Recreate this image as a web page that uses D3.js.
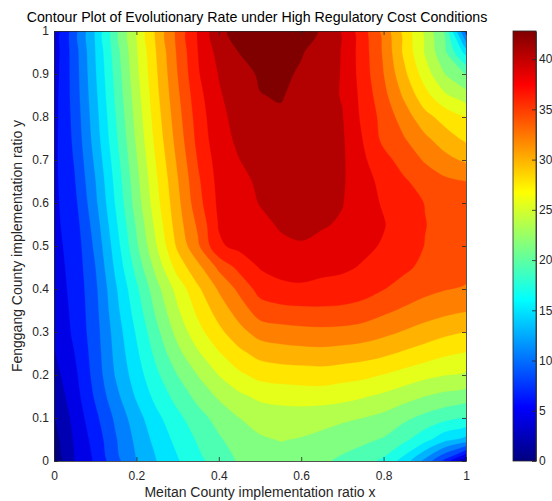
<!DOCTYPE html>
<html>
<head>
<meta charset="utf-8">
<script src="https://cdn.jsdelivr.net/npm/d3@7"></script>
<style>
  body { margin: 0; background: #fff; }
  svg { display: block; font-family: "Liberation Sans", Arial, Helvetica, sans-serif; }
  .axis .tick text { fill: #262626; font-size: 12px; }
  .axis .tick line, .axis .domain { stroke: #262626; stroke-width: 0.8; }
</style>
</head>
<body>
<svg class="rate-chart"></svg>
<script>
// grid coordinates of the sampled surface
var xGrid = [0, 0.05, 0.1, 0.15, 0.2, 0.25, 0.3, 0.35, 0.4, 0.45, 0.5,
             0.55, 0.6, 0.65, 0.7, 0.75, 0.8, 0.85, 0.9, 0.95, 1];
var yGrid = [0, 0.05, 0.1, 0.15, 0.2, 0.25, 0.3, 0.35, 0.4, 0.45, 0.5,
             0.55, 0.6, 0.65, 0.7, 0.75, 0.8, 0.85, 0.9, 0.95, 1];

// evolutionary rate, one row per y value (bottom row first)
var rate = [
  [0.5, 4.0, 6.4, 9.5, 12.2, 14.3, 16.1, 17.8, 19.3, 20.6, 21.5, 21.6, 21.3, 20.7, 20.0, 19.2, 17.9, 15.4, 11.6, 7.4, 2.0],
  [1.2, 4.3, 6.9, 10.0, 12.7, 15.0, 16.9, 18.6, 20.1, 21.4, 22.2, 22.5, 22.3, 21.9, 21.2, 20.8, 20.2, 18.8, 17.0, 14.8, 13.5],
  [1.9, 4.7, 7.6, 10.6, 13.4, 15.8, 17.8, 19.6, 21.1, 22.4, 23.1, 23.4, 23.3, 23.1, 22.8, 22.4, 21.8, 20.8, 19.8, 18.9, 18.2],
  [2.6, 5.2, 8.4, 11.6, 14.5, 17.0, 19.1, 21.0, 22.7, 24.0, 24.9, 25.2, 25.4, 25.4, 25.1, 24.6, 24.0, 23.2, 22.4, 21.8, 21.3],
  [3.3, 5.6, 8.9, 12.4, 15.3, 18.0, 20.4, 22.5, 24.5, 26.1, 27.1, 27.4, 27.5, 27.6, 27.3, 27.0, 26.4, 25.7, 25.0, 24.5, 24.1],
  [3.9, 6.1, 9.1, 12.8, 15.9, 19.0, 21.8, 24.2, 26.3, 28.0, 29.2, 29.6, 29.8, 29.9, 29.7, 29.4, 28.9, 28.2, 27.5, 26.8, 26.3],
  [4.4, 6.5, 9.3, 13.1, 16.5, 19.9, 23.1, 25.8, 28.0, 29.9, 31.4, 31.8, 32.0, 32.1, 32.0, 31.7, 31.1, 30.4, 29.7, 29.0, 28.5],
  [4.8, 6.6, 9.5, 13.6, 17.2, 20.9, 24.2, 27.0, 29.4, 31.5, 33.6, 34.0, 34.2, 34.3, 34.2, 33.8, 33.0, 32.3, 31.6, 31.1, 30.7],
  [5.1, 6.7, 9.7, 14.0, 17.9, 21.8, 25.2, 28.2, 30.8, 33.1, 35.4, 36.2, 36.3, 36.1, 35.9, 35.5, 34.7, 33.9, 33.2, 32.7, 32.4],
  [5.3, 6.8, 10.1, 14.7, 19.0, 23.2, 27.3, 30.0, 33.0, 35.2, 36.8, 37.3, 37.6, 37.2, 37.0, 36.5, 35.9, 35.0, 34.2, 33.6, 33.3],
  [5.5, 6.9, 10.6, 15.3, 20.0, 24.5, 28.9, 32.3, 36.4, 37.2, 37.7, 38.4, 38.6, 38.2, 37.8, 37.1, 36.5, 35.5, 34.6, 34.2, 34.0],
  [5.6, 7.2, 11.1, 15.9, 20.6, 25.2, 29.6, 33.0, 36.8, 37.8, 38.3, 38.9, 39.1, 38.9, 38.5, 37.3, 36.8, 35.6, 34.7, 34.1, 33.9],
  [5.6, 7.6, 11.7, 16.5, 21.3, 25.9, 30.0, 33.9, 37.1, 38.0, 38.8, 39.2, 39.4, 39.2, 38.8, 37.4, 36.5, 35.4, 34.6, 33.9, 33.5],
  [5.6, 8.0, 12.1, 16.9, 21.7, 26.3, 30.4, 34.3, 37.3, 38.3, 39.0, 39.5, 39.7, 39.3, 38.95, 37.3, 36.2, 34.9, 33.8, 33.0, 32.6],
  [5.6, 8.3, 12.6, 17.4, 22.2, 26.8, 30.9, 34.8, 37.6, 38.7, 39.4, 39.9, 39.9, 39.3, 39.0, 37.0, 35.3, 33.8, 32.4, 31.2, 30.2],
  [5.5, 8.6, 13.1, 17.9, 22.7, 27.3, 31.4, 35.3, 38.0, 39.1, 39.8, 40.2, 40.0, 39.3, 38.95, 36.6, 34.1, 32.7, 31.0, 29.4, 28.1],
  [5.4, 8.8, 13.4, 18.3, 23.1, 27.7, 31.8, 35.6, 38.2, 39.4, 40.2, 40.5, 40.1, 39.3, 38.8, 36.2, 33.9, 31.6, 29.2, 27.7, 26.5],
  [5.3, 9.0, 13.7, 18.7, 23.5, 28.1, 32.2, 36.0, 38.5, 39.7, 40.7, 40.9, 40.2, 39.4, 38.6, 36.0, 33.2, 30.2, 27.2, 24.7, 23.2],
  [5.1, 9.1, 14.0, 19.0, 23.9, 28.4, 32.6, 36.5, 38.8, 40.0, 41.0, 41.2, 40.5, 39.6, 38.6, 35.7, 32.6, 29.0, 25.5, 22.3, 20.3],
  [4.9, 9.2, 14.2, 19.4, 24.2, 28.7, 32.9, 36.7, 39.4, 40.8, 41.6, 41.8, 40.9, 39.9, 38.6, 35.6, 32.3, 28.1, 24.3, 20.6, 15.5],
  [4.6, 9.3, 14.4, 19.7, 24.5, 29.0, 33.1, 36.9, 40.2, 41.6, 42.3, 42.5, 41.8, 40.5, 38.5, 35.4, 31.9, 27.8, 24.0, 19.9, 9.0]
];

var xTicks = [0, 0.2, 0.4, 0.6, 0.8, 1];
var yTicks = [0, 0.1, 0.2, 0.3, 0.4, 0.5, 0.6, 0.7, 0.8, 0.9, 1];
var colorTicks = [0, 5, 10, 15, 20, 25, 30, 35, 40];
var colorMax = 42.8;
var levelCount = 21;

var titleText = "Contour Plot of Evolutionary Rate under High Regulatory Cost Conditions";
var xLabel = "Meitan County implementation ratio x";
var yLabel = "Fenggang County implementation ratio y";

drawRate();

// matlab style jet colormap
function jet(t) {
  function c(v) { return Math.max(0, Math.min(1, v)) * 255; }
  return d3.rgb(c(1.5 - Math.abs(4 * t - 3)), c(1.5 - Math.abs(4 * t - 2)), c(1.5 - Math.abs(4 * t - 1))).toString();
}

function drawRate() {
  var margin = {top: 31, right: 86, bottom: 40, left: 54};
  var width = 412;
  var height = 430;

  var svg = d3.select(".rate-chart")
    .attr("width", 552)
    .attr("height", 501);

  var chart = svg.append("g")
    .attr("transform", "translate(" + margin.left + "," + margin.top + ")");

  var x = d3.scaleLinear().domain([0, 1]).range([0, width]);
  var y = d3.scaleLinear().domain([0, 1]).range([height, 0]);

  // contour grid index -> pixel
  var nx = xGrid.length, ny = yGrid.length;
  var ix = d3.scaleLinear().domain([0.5, nx - 0.5]).range([x(xGrid[0]), x(xGrid[nx - 1])]);
  var iy = d3.scaleLinear().domain([0.5, ny - 0.5]).range([y(yGrid[0]), y(yGrid[ny - 1])]);

  var thresholds = d3.range(levelCount).map(function(i) { return i * colorMax / levelCount; });
  var contours = d3.contours().size([nx, ny]).smooth(true).thresholds(thresholds)(rate.flat());

  var ring = d3.line()
    .x(function(p) { return ix(p[0]); })
    .y(function(p) { return iy(p[1]); })
    .curve(d3.curveCatmullRomClosed.alpha(0.5));

  function shape(geo) {
    return geo.coordinates.map(function(poly) {
      return poly.map(function(r) { return ring(r.slice(0, -1)); }).join("");
    }).join("");
  }

  chart.append("clipPath").attr("id", "plot-clip")
    .append("rect").attr("width", width).attr("height", height);

  var fills = chart.append("g").attr("clip-path", "url(#plot-clip)");
  fills.append("rect")
    .attr("width", width).attr("height", height)
    .attr("fill", jet(0));

  fills.selectAll(".band")
    .data(contours)
    .enter().append("path")
    .attr("class", "band")
    .attr("d", shape)
    .attr("fill-rule", "evenodd")
    .attr("fill", function(d, i) { return jet(i / (levelCount - 1)); })
    .attr("stroke", function(d, i) { return jet(i / (levelCount - 1)); })
    .attr("stroke-width", 0.3);

  var fmt = d3.format("~g");

  chart.append("g")
    .attr("class", "x axis")
    .attr("transform", "translate(0," + height + ")")
    .call(d3.axisBottom(x).tickValues(xTicks).tickFormat(fmt).tickSizeInner(-4).tickSizeOuter(0).tickPadding(10));

  chart.append("g")
    .attr("class", "x axis")
    .call(d3.axisTop(x).tickValues(xTicks).tickFormat("").tickSizeInner(-4).tickSizeOuter(0));

  chart.append("g")
    .attr("class", "y axis")
    .call(d3.axisLeft(y).tickValues(yTicks).tickFormat(fmt).tickSizeInner(-4).tickSizeOuter(0).tickPadding(5));

  chart.append("g")
    .attr("class", "y axis")
    .attr("transform", "translate(" + width + ",0)")
    .call(d3.axisRight(y).tickValues(yTicks).tickFormat("").tickSizeInner(-4).tickSizeOuter(0));

  // colorbar
  var cbX = 459, cbW = 23;
  var c = d3.scaleLinear().domain([0, colorMax]).range([height, 0]);

  var grad = svg.append("defs").append("linearGradient")
    .attr("id", "jet-grad")
    .attr("x1", 0).attr("y1", 1).attr("x2", 0).attr("y2", 0);
  grad.selectAll("stop")
    .data(d3.range(65))
    .enter().append("stop")
    .attr("offset", function(k) { return k / 64; })
    .attr("stop-color", function(k) { return jet(k / 64); });

  chart.append("rect")
    .attr("x", cbX).attr("y", 0)
    .attr("width", cbW).attr("height", height)
    .attr("fill", "url(#jet-grad)");

  chart.append("g")
    .attr("class", "c axis")
    .attr("transform", "translate(" + (cbX + cbW) + ",0)")
    .call(d3.axisRight(c).tickValues(colorTicks).tickFormat(fmt).tickSizeInner(-4).tickSizeOuter(0).tickPadding(3));

  chart.append("rect")
    .attr("x", cbX).attr("y", 0)
    .attr("width", cbW).attr("height", height)
    .attr("fill", "none")
    .attr("stroke", "#262626")
    .attr("stroke-width", 0.8);

  svg.append("text")
    .attr("x", 257)
    .attr("y", 21.5)
    .attr("text-anchor", "middle")
    .style("font-size", "14.2px")
    .style("fill", "#000")
    .text(titleText);

  svg.append("text")
    .attr("x", margin.left + width / 2)
    .attr("y", 497)
    .attr("text-anchor", "middle")
    .style("font-size", "14px")
    .style("fill", "#262626")
    .text(xLabel);

  svg.append("text")
    .attr("transform", "translate(22," + (margin.top + height / 2) + ") rotate(-90)")
    .attr("text-anchor", "middle")
    .style("font-size", "14px")
    .style("fill", "#262626")
    .text(yLabel);
}
</script>
</body>
</html>
